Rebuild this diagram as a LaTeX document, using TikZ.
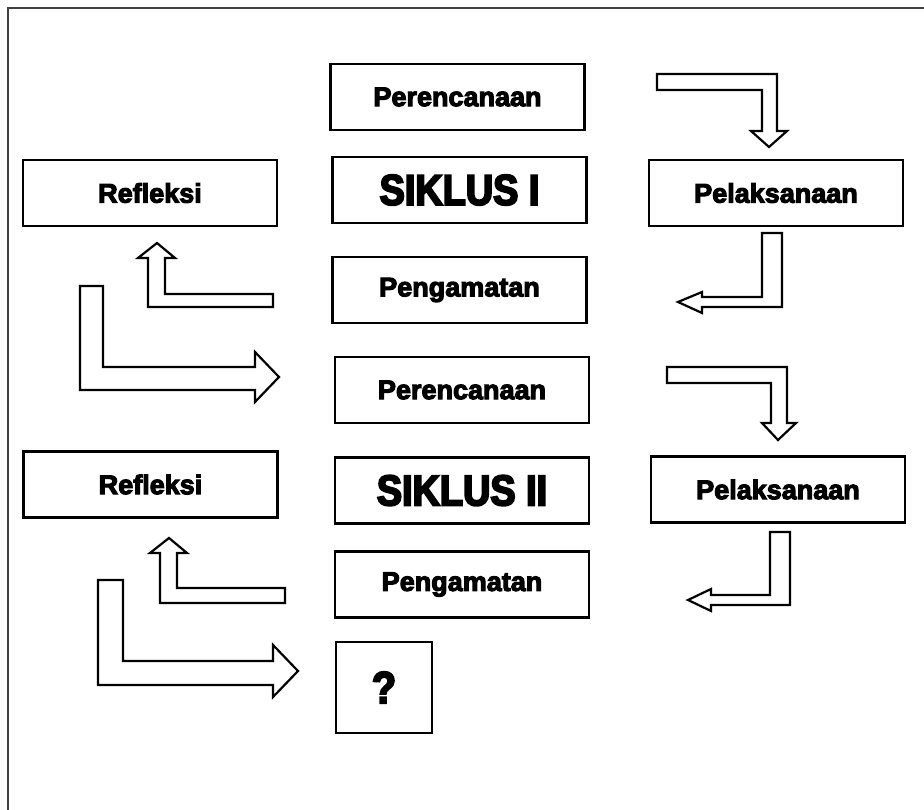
\documentclass[tikz,border=0pt]{standalone}
\usepackage{fontspec}
\usepackage{tikz}
\newfontfamily\labelfont{Liberation Sans}[FakeBold=4]
\newfontfamily\siklusfont{Liberation Sans}[FakeBold=4.5,FakeStretch=0.88]
\tikzset{
	kotak/.style={draw, line width=2.2pt, inner sep=0pt, outer sep=0pt, minimum width=254pt, minimum height=66pt, font={\labelfont\bfseries\fontsize{27}{27}\selectfont}},
	judul/.style={kotak, font={\siklusfont\bfseries\fontsize{43}{43}\selectfont}},
	panah/.style={draw, line width=2.2pt, line join=miter, fill=white}
}

\begin{document}
\begin{tikzpicture}[x=1pt, y=-1pt]
			%%%%% START %%%%%
			\useasboundingbox (0, 0) rectangle (924, 810);
			\draw[line width=2.2pt, color=black!75] (8, 810) -- (8, 8) -- (924, 8);
			
			% siklus I
			\node[kotak] (per1) at (457.5, 97) {Perencanaan};
			\node[judul] (sik1) at (459.5, 190) {SIKLUS I};
			\node[kotak] (pen1) at (459.5, 290) {Pengamatan};
			\node[kotak] (ref1) at (150, 193) {Refleksi};
			\node[kotak] (pel1) at (776, 193) {Pelaksanaan};
			
			\draw[panah] (657, 74) -- (777, 74) -- (777, 131) -- (787, 131) -- (769, 147) -- (751, 131) -- (762, 131) -- (762, 90) -- (657, 90) -- cycle;
			\draw[panah] (762, 233) -- (782, 233) -- (782, 307) -- (702, 307) -- (702, 313) -- (678, 302) -- (702, 292) -- (702, 297) -- (762, 297) -- cycle;
			\draw[panah] (157, 243) -- (175, 258) -- (165, 258) -- (165, 294) -- (273, 294) -- (273, 307) -- (148, 307) -- (148, 258) -- (138, 258) -- cycle;
			\draw[panah] (80, 286) -- (103, 286) -- (103, 367) -- (255, 367) -- (255, 352) -- (279, 377) -- (255, 402) -- (255, 390) -- (80, 390) -- cycle;
			
			% siklus II
			\node[kotak] (per2) at (462, 390) {Perencanaan};
			\node[judul] (sik2) at (462, 490.5) {SIKLUS II};
			\node[kotak] (pen2) at (462, 584.5) {Pengamatan};
			\node[kotak] (ref2) at (150.5, 484.5) {Refleksi};
			\node[kotak] (pel2) at (778, 489.5) {Pelaksanaan};
			\node[judul, minimum width=96pt, minimum height=91pt, font={\siklusfont\bfseries\fontsize{45}{45}\selectfont}] (tanya) at (384, 687.5) {?};
			
			\draw[panah] (667, 367) -- (787, 367) -- (787, 423) -- (796, 423) -- (778, 440) -- (762, 423) -- (771, 423) -- (771, 383) -- (667, 383) -- cycle;
			\draw[panah] (770, 532) -- (790, 532) -- (790, 605) -- (711, 605) -- (711, 611) -- (688, 600) -- (711, 589) -- (711, 595) -- (770, 595) -- cycle;
			\draw[panah] (169, 538) -- (187, 553) -- (177, 553) -- (177, 588) -- (285, 588) -- (285, 603) -- (160, 603) -- (160, 553) -- (150, 553) -- cycle;
			\draw[panah] (98, 580) -- (123, 580) -- (123, 661) -- (273, 661) -- (273, 645) -- (298, 671) -- (273, 697) -- (273, 685) -- (98, 685) -- cycle;
			%%%%% END %%%%%
\end{tikzpicture}
\end{document}
